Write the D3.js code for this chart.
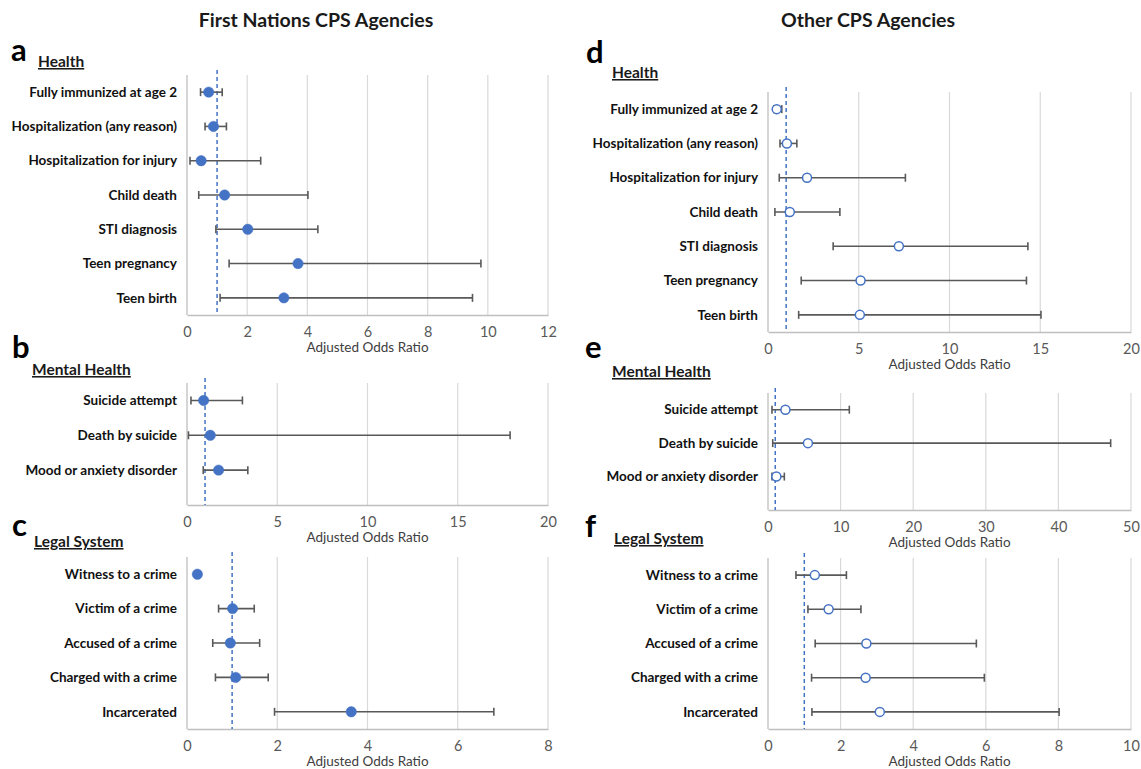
<!DOCTYPE html>
<html>
<head>
<meta charset="utf-8">
<script src="https://cdn.jsdelivr.net/npm/d3@7"></script>
<style>
  body { margin: 0; background: #fff; }
  text { font-family: Lato, "Open Sans", sans-serif; }
</style>
</head>
<body>
<svg id="chart"></svg>
<script>
// categories
const healthItems = ["Fully immunized at age 2", "Hospitalization (any reason)", "Hospitalization for injury",
  "Child death", "STI diagnosis", "Teen pregnancy", "Teen birth"]
const mentalItems = ["Suicide attempt", "Death by suicide", "Mood or anxiety disorder"]
const legalItems = ["Witness to a crime", "Victim of a crime", "Accused of a crime", "Charged with a crime", "Incarcerated"]

// First Nations CPS agencies (adjusted odds ratio, 95% CI)
const fnHealthAOR = [0.72, 0.88, 0.47, 1.25, 2.02, 3.69, 3.22]
const fnHealthLow = [0.45, 0.60, 0.10, 0.39, 0.96, 1.40, 1.10]
const fnHealthHigh = [1.17, 1.31, 2.45, 4.02, 4.35, 9.77, 9.49]

const fnMentalAOR = [0.92, 1.29, 1.75]
const fnMentalLow = [0.22, 0.08, 0.90]
const fnMentalHigh = [3.07, 17.9, 3.37]

const fnLegalAOR = [0.23, 1.01, 0.96, 1.08, 3.64]
const fnLegalLow = [null, 0.70, 0.57, 0.63, 1.94]
const fnLegalHigh = [null, 1.49, 1.61, 1.80, 6.80]

// Other CPS agencies
const otherHealthAOR = [0.48, 1.04, 2.15, 1.20, 7.21, 5.10, 5.06]
const otherHealthLow = [0.32, 0.66, 0.62, 0.38, 3.59, 1.83, 1.69]
const otherHealthHigh = [0.76, 1.59, 7.57, 3.96, 14.32, 14.24, 15.04]

const otherMentalAOR = [2.4, 5.5, 1.15]
const otherMentalLow = [0.55, 0.65, 0.55]
const otherMentalHigh = [11.2, 47.2, 2.25]

const otherLegalAOR = [1.29, 1.67, 2.71, 2.69, 3.08]
const otherLegalLow = [0.77, 1.10, 1.30, 1.20, 1.21]
const otherLegalHigh = [2.16, 2.56, 5.74, 5.96, 8.02]

// x-axis ticks
const ticksA = [0, 2, 4, 6, 8, 10, 12]
const ticksB = [0, 5, 10, 15, 20]
const ticksC = [0, 2, 4, 6, 8]
const ticksD = [0, 5, 10, 15, 20]
const ticksE = [0, 10, 20, 30, 40, 50]
const ticksF = [0, 2, 4, 6, 8, 10]

const refValue = 1

const BLUE = "#4472C4"

const svg = d3.select("#chart").attr("width", 1141).attr("height", 769)

svg.append("text").attr("x", 316).attr("y", 27).attr("text-anchor", "middle")
  .attr("font-size", 19.5).attr("font-weight", "bold").attr("fill", "#1a1a1a")
  .text("First Nations CPS Agencies")
svg.append("text").attr("x", 868).attr("y", 27).attr("text-anchor", "middle")
  .attr("font-size", 19.5).attr("font-weight", "bold").attr("fill", "#1a1a1a")
  .text("Other CPS Agencies")

const panels = [
  { letter: "a", lx: 11, ly: 61, section: "Health", sx: 38, sy: 67, items: healthItems,
    est: fnHealthAOR, lo: fnHealthLow, hi: fnHealthHigh, ticks: ticksA,
    x0: 187, x1: 548, top: 75, bottom: 315, slots: 7, open: false },
  { letter: "b", lx: 12, ly: 358, section: "Mental Health", sx: 32, sy: 375, items: mentalItems,
    est: fnMentalAOR, lo: fnMentalLow, hi: fnMentalHigh, ticks: ticksB,
    x0: 187, x1: 548, top: 383, bottom: 505, slots: 3.5, open: false },
  { letter: "c", lx: 12, ly: 536, section: "Legal System", sx: 34, sy: 547, items: legalItems,
    est: fnLegalAOR, lo: fnLegalLow, hi: fnLegalHigh, ticks: ticksC,
    x0: 187, x1: 548, top: 557, bottom: 729, slots: 5, open: false },
  { letter: "d", lx: 586, ly: 63, section: "Health", sx: 612, sy: 78, items: healthItems,
    est: otherHealthAOR, lo: otherHealthLow, hi: otherHealthHigh, ticks: ticksD,
    x0: 768, x1: 1131, top: 92, bottom: 332, slots: 7, open: true },
  { letter: "e", lx: 585, ly: 358, section: "Mental Health", sx: 612, sy: 377, items: mentalItems,
    est: otherMentalAOR, lo: otherMentalLow, hi: otherMentalHigh, ticks: ticksE,
    x0: 768, x1: 1131, top: 393, bottom: 510, slots: 3.5, open: true },
  { letter: "f", lx: 585, ly: 537, section: "Legal System", sx: 614, sy: 544, items: legalItems,
    est: otherLegalAOR, lo: otherLegalLow, hi: otherLegalHigh, ticks: ticksF,
    x0: 768, x1: 1131, top: 558, bottom: 729, slots: 5, open: true }
]

panels.forEach((p) => {
  const x = d3.scaleLinear()
    .domain([p.ticks[0], p.ticks[p.ticks.length - 1]])
    .range([p.x0, p.x1])
  const slotH = (p.bottom - p.top) / p.slots
  const y = d3.scaleBand()
    .domain(p.items)
    .range([p.top, p.top + slotH * p.items.length])
  const cy = (d) => y(d) + y.bandwidth() / 2

  const g = svg.append("g")

  // panel letter + section heading
  svg.append("text").attr("x", p.lx).attr("y", p.ly)
    .attr("font-family", "'Liberation Sans', Arial, sans-serif")
    .attr("font-size", 31).attr("font-weight", "bold").attr("fill", "#000")
    .text(p.letter)
  svg.append("text").attr("x", p.sx).attr("y", p.sy)
    .attr("font-size", 15.5).attr("font-weight", "bold").attr("fill", "#1a1a1a")
    .attr("text-decoration", "underline")
    .text(p.section)

  // gridlines
  g.append("g")
    .selectAll("line")
    .data(p.ticks.slice(1))
    .enter()
    .append("line")
    .attr("x1", (d) => x(d)).attr("x2", (d) => x(d))
    .attr("y1", p.top).attr("y2", p.bottom)
    .attr("stroke", "#d9d9d9").attr("stroke-width", 1.2)

  // axes lines
  g.append("line")
    .attr("x1", p.x0).attr("x2", p.x0).attr("y1", p.top).attr("y2", p.bottom)
    .attr("stroke", "#bfbfbf").attr("stroke-width", 1.3)
  const xAxis = g.append("g")
    .attr("transform", "translate(0," + p.bottom + ")")
    .call(d3.axisBottom(x).tickValues(p.ticks).tickSize(0).tickPadding(12).tickFormat(d3.format("d")))
  xAxis.select(".domain").attr("stroke", "#bfbfbf").attr("stroke-width", 1.3)
  xAxis.selectAll("text")
    .attr("font-family", "Lato, sans-serif").attr("font-size", 14.5).attr("fill", "#595959")

  g.append("text")
    .attr("x", (p.x0 + p.x1) / 2).attr("y", p.bottom + 37)
    .attr("text-anchor", "middle").attr("font-size", 13.5).attr("fill", "#404040")
    .text("Adjusted Odds Ratio")

  // category labels
  g.append("g")
    .selectAll("text")
    .data(p.items)
    .enter()
    .append("text")
    .attr("x", p.x0 - 10)
    .attr("y", cy)
    .attr("dy", "0.35em")
    .attr("text-anchor", "end")
    .attr("font-size", 13.5).attr("font-weight", "bold").attr("fill", "#111")
    .text((d) => d)

  // reference line at OR = 1
  g.append("line")
    .attr("x1", x(refValue)).attr("x2", x(refValue))
    .attr("y1", p.top - 5).attr("y2", p.bottom)
    .attr("stroke", BLUE).attr("stroke-width", 1.5).attr("stroke-dasharray", "4,3")

  // error bars
  const rows = p.items.map((name, i) => ({ name, est: p.est[i], lo: p.lo[i], hi: p.hi[i] }))
  const bars = g.append("g")
    .selectAll("g")
    .data(rows.filter((r) => r.lo !== null))
    .enter()
    .append("g")
    .attr("stroke", "#595959").attr("stroke-width", 1.6)
  bars.append("line")
    .attr("x1", (r) => x(r.lo)).attr("x2", (r) => x(r.hi))
    .attr("y1", (r) => cy(r.name)).attr("y2", (r) => cy(r.name))
  bars.append("line")
    .attr("x1", (r) => x(r.lo)).attr("x2", (r) => x(r.lo))
    .attr("y1", (r) => cy(r.name) - 4).attr("y2", (r) => cy(r.name) + 4)
  bars.append("line")
    .attr("x1", (r) => x(r.hi)).attr("x2", (r) => x(r.hi))
    .attr("y1", (r) => cy(r.name) - 4).attr("y2", (r) => cy(r.name) + 4)

  // points
  g.append("g")
    .selectAll("circle")
    .data(rows)
    .enter()
    .append("circle")
    .attr("cx", (r) => x(r.est))
    .attr("cy", (r) => cy(r.name))
    .attr("r", p.open ? 4.5 : 5.2)
    .attr("fill", p.open ? "#fff" : BLUE)
    .attr("stroke", BLUE)
    .attr("stroke-width", p.open ? 1.5 : 0.5)
})
</script>
</body>
</html>
